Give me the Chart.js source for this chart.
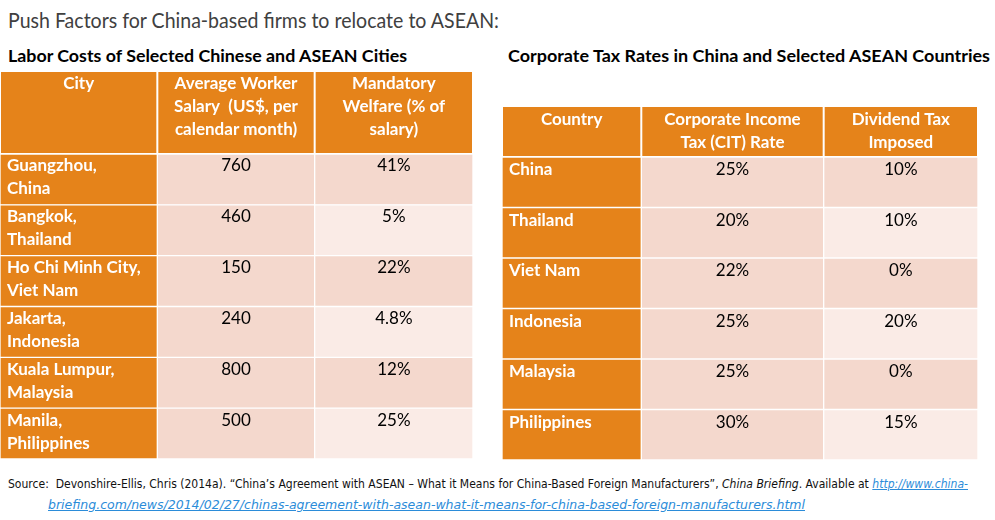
<!DOCTYPE html>
<html><head><meta charset="utf-8">
<script src="https://cdn.jsdelivr.net/npm/chart.js@4.4.1/dist/chart.umd.min.js"></script>
<style>
html,body{margin:0;padding:0;background:#fff}
body{width:995px;height:520px;position:relative;overflow:hidden;font-family:Lato,"Open Sans",sans-serif}
.t{position:absolute;white-space:nowrap;transform-origin:0 0;line-height:1}
#title{left:8px;top:9px;font-size:21px;color:#404040}
.sub{font-weight:bold;font-size:17px;color:#000}
#sub1{left:8px;top:47px}
#sub2{left:508px;top:47px}
.src{font-family:"DejaVu Sans",sans-serif;font-size:11.5px;color:#111}
#src1{left:8px;top:479px}
#src2{left:48px;top:500px}
.lnk{color:#2B8CD9;text-decoration:underline;font-style:italic}
canvas{position:absolute}
#c1{left:0;top:72px}
#c2{left:502px;top:107px}
</style></head>
<body>
<div class="t" id="title" data-w="491">Push Factors for China-based firms to relocate to ASEAN:</div>
<div class="t sub" id="sub1" data-w="399">Labor Costs of Selected Chinese and ASEAN Cities</div>
<div class="t sub" id="sub2" data-w="482">Corporate Tax Rates in China and Selected ASEAN Countries</div>
<div class="t src" id="src1" data-w="960">Source:&nbsp; Devonshire-Ellis, Chris (2014a). “China’s Agreement with ASEAN – What it Means for China-Based Foreign Manufacturers”, <i>China Briefing</i>. Available at <span class="lnk">http://www.china-</span></div>
<div class="t src" id="src2" data-w="757"><span class="lnk">briefing.com/news/2014/02/27/chinas-agreement-with-asean-what-it-means-for-china-based-foreign-manufacturers.html</span></div>
<canvas id="c1" width="473" height="387"></canvas>
<canvas id="c2" width="476" height="353"></canvas>
<script>
// ---- data ----
const laborHeaders = [['City'], ['Average Worker', 'Salary  (US$, per', 'calendar month)'], ['Mandatory', 'Welfare (% of', 'salary)']];
const laborCities = [['Guangzhou,', 'China'], ['Bangkok,', 'Thailand'], ['Ho Chi Minh City,', 'Viet Nam'], ['Jakarta,', 'Indonesia'], ['Kuala Lumpur,', 'Malaysia'], ['Manila,', 'Philippines']];
const laborSalary = [760, 460, 150, 240, 800, 500];
const laborWelfare = [41, 5, 22, 4.8, 12, 25];

const taxHeaders = [['Country'], ['Corporate Income', 'Tax (CIT) Rate'], ['Dividend Tax', 'Imposed']];
const taxCountries = [['China'], ['Thailand'], ['Viet Nam'], ['Indonesia'], ['Malaysia'], ['Philippines']];
const taxCIT = [25, 20, 22, 25, 25, 30];
const taxDividend = [10, 10, 0, 20, 0, 15];

// ---- style ----
const ORANGE = '#E5831A', DARK = '#F4D8CD', LIGHT = '#FAEBE6';
const FONT = 'Lato, "Open Sans", sans-serif';

function makeTable(id, opt) {
  const edges = [0];
  opt.colWidths.forEach(w => edges.push(edges[edges.length - 1] + w));
  const n = opt.rowLabels.length;
  const cols = [opt.rowLabels, ...opt.values.map((v, k) => v.map(opt.fmt[k]))];
  const datasets = cols.map((col, c) => ({
    data: col.map(() => [edges[c], edges[c + 1]]),
    backgroundColor: col.map((_, r) => c === 0 ? ORANGE : (c === 1 ? DARK : (r % 2 === 0 ? DARK : LIGHT))),
    borderColor: '#fff', borderWidth: 1, borderSkipped: false,
    grouped: false, categoryPercentage: 1, barPercentage: 1
  }));
  const tablePlugin = {
    id: 'tableText',
    beforeDatasetsDraw(chart) {
      const ctx = chart.ctx, xs = chart.scales.x, top = chart.chartArea.top;
      ctx.save();
      ctx.fillStyle = '#fff';
      ctx.fillRect(0, 0, chart.width, top);
      ctx.fillStyle = ORANGE;
      for (let c = 0; c < edges.length - 1; c++) {
        const x0 = xs.getPixelForValue(edges[c]), x1 = xs.getPixelForValue(edges[c + 1]);
        ctx.fillRect(x0 + 1, top - opt.headerH + (opt.headerTopGap || 0), x1 - x0 - 2, opt.headerH - 2 - (opt.headerTopGap || 0) + 1);
      }
      ctx.restore();
    },
    afterDatasetsDraw(chart) {
      const ctx = chart.ctx, xs = chart.scales.x, top = chart.chartArea.top;
      ctx.save();
      ctx.textBaseline = 'middle';
      // header
      ctx.fillStyle = '#fff';
      ctx.font = 'bold ' + opt.fs + 'px ' + FONT;
      ctx.textAlign = 'center';
      opt.headers.forEach((lines, c) => {
        const cx = (xs.getPixelForValue(edges[c]) + xs.getPixelForValue(edges[c + 1])) / 2;
        lines.forEach((l, i) => ctx.fillText(l, cx, top - opt.headerH + opt.headOff + i * opt.lh));
      });
      // body
      cols.forEach((col, c) => {
        const meta = chart.getDatasetMeta(c);
        col.forEach((val, r) => {
          const el = meta.data[r];
          const rt = el.y - el.height / 2;
          const lines = Array.isArray(val) ? val : [val];
          if (c === 0) {
            ctx.fillStyle = '#fff'; ctx.font = 'bold ' + opt.fs + 'px ' + FONT; ctx.textAlign = 'left';
            lines.forEach((l, i) => ctx.fillText(l, xs.getPixelForValue(edges[0]) + 7, rt + opt.bodyOff + i * opt.lh));
          } else {
            ctx.fillStyle = '#000'; ctx.font = opt.fs + 'px ' + FONT; ctx.textAlign = 'center';
            const cx = (xs.getPixelForValue(edges[c]) + xs.getPixelForValue(edges[c + 1])) / 2;
            lines.forEach((l, i) => ctx.fillText(l, cx, rt + opt.bodyOff + i * opt.lh));
          }
        });
      });
      ctx.restore();
    }
  };
  return new Chart(document.getElementById(id), {
    type: 'bar',
    data: { labels: opt.rowLabels.map(l => l.join(' ')), datasets },
    options: {
      indexAxis: 'y', responsive: false, animation: false, devicePixelRatio: 1,
      layout: { padding: { top: opt.headerH, left: 0, right: 0, bottom: 0 } },
      scales: {
        x: { type: 'linear', min: 0, max: edges[edges.length - 1], display: false },
        y: { type: 'category', display: false, offset: true }
      },
      plugins: { legend: { display: false }, tooltip: { enabled: false } }
    },
    plugins: [tablePlugin]
  });
}

function fit() {
  document.querySelectorAll('[data-w]').forEach(el => {
    const w = el.getBoundingClientRect().width;
    const target = +el.dataset.w;
    el.style.transform = 'scaleX(' + (target / w) + ')';
  });
}

(document.fonts ? document.fonts.ready : Promise.resolve()).then(() => {
  fit();
  makeTable('c1', {
    headers: laborHeaders, rowLabels: laborCities,
    values: [laborSalary, laborWelfare],
    fmt: [v => String(v), v => v + '%'],
    colWidths: [157, 157, 158], headerH: 82, headOff: 12, bodyOff: 12, lh: 23, fs: 17
  });
  makeTable('c2', {
    headers: taxHeaders, rowLabels: taxCountries,
    values: [taxCIT, taxDividend],
    fmt: [v => v + '%', v => v + '%'],
    colWidths: [139, 182, 154], headerH: 50, headOff: 13, bodyOff: 13, lh: 23, fs: 17
  });
});
</script>
</body></html>
